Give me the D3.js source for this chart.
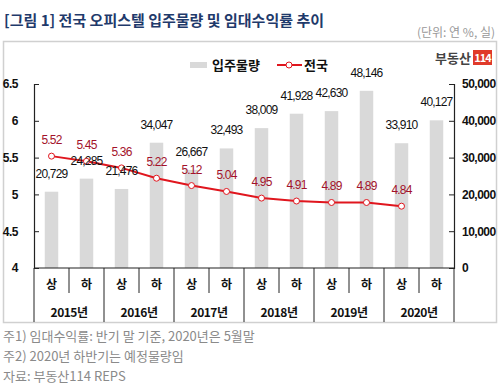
<!DOCTYPE html>
<html>
<head>
<meta charset="utf-8">
<script src="https://cdn.jsdelivr.net/npm/d3@7"></script>
<style>
  body { margin: 0; background: #fff; }
  text { font-family: "Noto Sans CJK KR", "Liberation Sans", sans-serif; }
</style>
</head>
<body>
<div id="chart"></div>
<script>
var halves = ["상", "하"];
var years = ["2015년", "2016년", "2017년", "2018년", "2019년", "2020년"];
var supply = [20729, 24285, 21476, 34047, 26667, 32493, 38009, 41928, 42630, 48146, 33910, 40127];
var yieldRate = [5.52, 5.45, 5.36, 5.22, 5.12, 5.04, 4.95, 4.91, 4.89, 4.89, 4.84];
var leftTicks = [4, 4.5, 5, 5.5, 6, 6.5];
var rightTicks = [0, 10000, 20000, 30000, 40000, 50000];

var w = 500, h = 386;
var plotL = 34, plotR = 454, plotT = 84, plotB = 268;

var svg = d3.select("#chart").append("svg").attr("width", w).attr("height", h);

// title
svg.append("text").attr("x", 4).attr("y", 26)
  .text("[그림 1] 전국 오피스텔 입주물량 및 임대수익률 추이")
  .style("font-size", "15px").style("font-weight", "bold").style("fill", "#1f3a6b");
svg.append("text").attr("x", 495).attr("y", 37).attr("text-anchor", "end")
  .text("(단위: 연 %, 실)").style("font-size", "12px").style("fill", "#999");

// frame
svg.append("rect").attr("x", 3.5).attr("y", 41.5).attr("width", 493).attr("height", 281)
  .style("fill", "none").style("stroke", "#d0d0d0").style("stroke-width", 1.5);

// logo
svg.append("text").attr("x", 471).attr("y", 63).attr("text-anchor", "end")
  .text("부동산").style("font-size", "13px").style("font-weight", "bold").style("fill", "#444");
svg.append("rect").attr("x", 473).attr("y", 50).attr("width", 19).attr("height", 15).style("fill", "#e03a2a");
svg.append("text").attr("x", 482.5).attr("y", 62).attr("text-anchor", "middle")
  .text("114").style("font-size", "11px").style("font-weight", "bold").style("fill", "#fff")
  .style("letter-spacing", "-1px");

var idx = d3.range(supply.length);
var x = d3.scaleBand().domain(idx).range([plotL, plotR]);
var yL = d3.scaleLinear().domain([4, 6.5]).range([plotB, plotT]);
var yR = d3.scaleLinear().domain([0, 50000]).range([plotB, plotT]);
var fmt = d3.format(",");

// bars
var bw = 13.5;
svg.selectAll("rect.bar").data(supply).enter().append("rect").attr("class", "bar")
  .attr("x", function (d, i) { return x(i) + x.bandwidth() / 2 - bw / 2; })
  .attr("y", function (d) { return yR(d); })
  .attr("width", bw)
  .attr("height", function (d) { return plotB - yR(d); })
  .style("fill", "#d9d9d9");

// line
var line = d3.line()
  .x(function (d, i) { return x(i) + x.bandwidth() / 2; })
  .y(function (d) { return yL(d); });
svg.append("path").datum(yieldRate).attr("d", line)
  .style("fill", "none").style("stroke", "#e0161e").style("stroke-width", 2);
svg.selectAll("circle.pt").data(yieldRate).enter().append("circle").attr("class", "pt")
  .attr("cx", function (d, i) { return x(i) + x.bandwidth() / 2; })
  .attr("cy", function (d) { return yL(d); })
  .attr("r", 3).style("fill", "#fff").style("stroke", "#e0161e").style("stroke-width", 1);

// axes (ticks point inward on both sides)
var axL = svg.append("g").attr("transform", "translate(" + plotL + ",0)")
  .call(d3.axisRight(yL).tickValues(leftTicks).tickSize(5).tickFormat(function (d) { return d; }));
axL.selectAll("text").attr("x", -16).attr("text-anchor", "end");
var axR = svg.append("g").attr("transform", "translate(" + plotR + ",0)")
  .call(d3.axisLeft(yR).tickValues(rightTicks).tickSize(5).tickFormat(fmt));
axR.selectAll("text").attr("x", 8).attr("text-anchor", "start");
[axL, axR].forEach(function (a) {
  a.select(".domain").style("stroke", "#222").style("stroke-width", 1.2);
  a.selectAll("line").style("stroke", "#222");
  a.selectAll("text").style("font-size", "12px").style("font-weight", "bold").style("fill", "#111")
    .style("font-family", "Liberation Sans, sans-serif").style("letter-spacing", "-0.5px");
});

// x axis
svg.append("line").attr("x1", plotL).attr("x2", plotR).attr("y1", plotB).attr("y2", plotB)
  .style("stroke", "#222").style("stroke-width", 1.2);
var seps = d3.range(supply.length + 1);
svg.selectAll("line.sep").data(seps).enter().append("line").attr("class", "sep")
  .attr("x1", function (d) { return plotL + d * x.bandwidth(); })
  .attr("x2", function (d) { return plotL + d * x.bandwidth(); })
  .attr("y1", plotB)
  .attr("y2", function (d) { return d % 2 == 0 ? 322 : 293; })
  .style("stroke", "#222").style("stroke-width", 1);
svg.selectAll("text.half").data(idx).enter().append("text").attr("class", "half")
  .attr("x", function (d) { return x(d) + x.bandwidth() / 2; })
  .attr("y", 289).attr("text-anchor", "middle")
  .text(function (d) { return halves[d % 2]; })
  .style("font-size", "12px").style("font-weight", "bold").style("fill", "#111");
svg.selectAll("text.year").data(years).enter().append("text").attr("class", "year")
  .attr("x", function (d, i) { return x(i * 2) + x.bandwidth(); })
  .attr("y", 317).attr("text-anchor", "middle")
  .text(function (d) { return d; })
  .style("font-size", "12px").style("font-weight", "bold").style("fill", "#111")
  .style("letter-spacing", "-0.5px");

// bar labels
svg.selectAll("text.blab").data(supply).enter().append("text").attr("class", "blab")
  .attr("x", function (d, i) { return x(i) + x.bandwidth() / 2; })
  .attr("y", function (d) { return yR(d) - 14; })
  .attr("text-anchor", "middle")
  .text(function (d) { return fmt(d); })
  .style("font-size", "12px").style("fill", "#111")
  .style("font-family", "Liberation Sans, sans-serif").style("letter-spacing", "-0.8px");

// line labels
svg.selectAll("text.llab").data(yieldRate).enter().append("text").attr("class", "llab")
  .attr("x", function (d, i) { return x(i) + x.bandwidth() / 2; })
  .attr("y", function (d) { return yL(d) - 12; })
  .attr("text-anchor", "middle")
  .text(function (d) { return d3.format(".2f")(d); })
  .style("font-size", "12px").style("fill", "#a3122a")
  .style("font-family", "Liberation Sans, sans-serif").style("letter-spacing", "-0.8px");

// legend
svg.append("rect").attr("x", 190).attr("y", 62).attr("width", 17).attr("height", 6).style("fill", "#d9d9d9");
svg.append("text").attr("x", 212).attr("y", 70).text("입주물량")
  .style("font-size", "13px").style("font-weight", "bold").style("fill", "#111");
svg.append("line").attr("x1", 277).attr("x2", 302).attr("y1", 65).attr("y2", 65)
  .style("stroke", "#e0161e").style("stroke-width", 2);
svg.append("circle").attr("cx", 289).attr("cy", 65).attr("r", 3)
  .style("fill", "#fff").style("stroke", "#e0161e");
svg.append("text").attr("x", 304).attr("y", 70).text("전국")
  .style("font-size", "13px").style("font-weight", "bold").style("fill", "#111");

// notes
var notes = ["주1) 임대수익률: 반기 말 기준, 2020년은 5월말", "주2) 2020년 하반기는 예정물량임", "자료: 부동산114 REPS"];
svg.selectAll("text.note").data(notes).enter().append("text").attr("class", "note")
  .attr("x", 3).attr("y", function (d, i) { return 341 + i * 20; })
  .text(function (d) { return d; })
  .style("font-size", "13px").style("fill", "#8a8a8a");
</script>
</body>
</html>
